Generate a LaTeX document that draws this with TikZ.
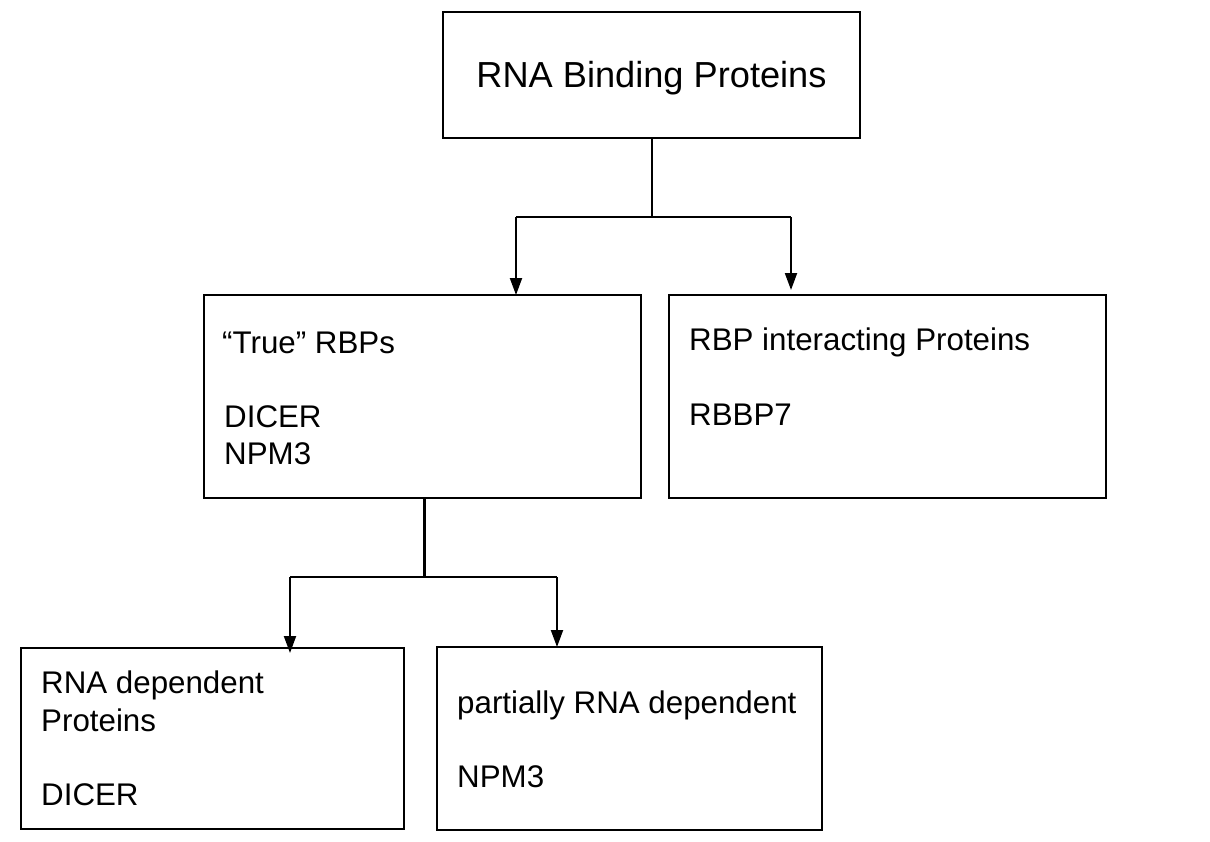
\documentclass[tikz,border=0pt]{standalone}
\usepackage{fontspec}
\setmainfont{Liberation Sans}
\usetikzlibrary{arrows.meta}
\begin{document}
\begin{tikzpicture}[x=1pt,y=-1pt,
  box/.style={draw=black,line width=1.6pt,rectangle,inner sep=0pt},
  txt/.style={anchor=base west,inner sep=0pt,font=\fontsize{31.3}{37.5}\selectfont},
  ttl/.style={anchor=base,inner sep=0pt,font=\fontsize{36.2}{43}\selectfont},
  conn/.style={line width=2pt},
  arr/.style={line width=2pt,-{Triangle[width=12pt,length=17pt]}}]
\useasboundingbox (0,0) rectangle (1210,841);
\fill[white] (0,0) rectangle (1210,841);
% boxes
\node[box,minimum width=417pt,minimum height=126pt] (top) at (651.5,75) {};
\node[box,minimum width=437pt,minimum height=203pt] (ml) at (422.5,396.5) {};
\node[box,minimum width=437pt,minimum height=203pt] (mr) at (887.5,396.5) {};
\node[box,minimum width=383pt,minimum height=181pt] (bl) at (212.5,738.5) {};
\node[box,minimum width=385pt,minimum height=183pt] (br) at (629.5,738.5) {};
% texts
\node[ttl] (t0) at (651.5,87) {RNA Binding Proteins};
\node[txt] (t1) at (222,353) {“True” RBPs};
\node[txt] (t2) at (224,427) {DICER};
\node[txt] (t3) at (224,464) {NPM3};
\node[txt] (t4) at (689,350) {RBP interacting Proteins};
\node[txt] (t5) at (689,425) {RBBP7};
\node[txt] (t6) at (41,693) {RNA dependent};
\node[txt] (t7) at (41,731) {Proteins};
\node[txt] (t8) at (41,805) {DICER};
\node[txt] (t9) at (457,713) {partially RNA dependent};
\node[txt] (t10) at (457,787) {NPM3};
% connectors
\coordinate (j1) at (652,217);
\coordinate (a1) at (516,217);
\coordinate (a2) at (791,217);
\coordinate (e1) at (516,295);
\coordinate (e2) at (791,290);
\draw[conn] (top.south -| j1) -- (j1);
\draw[conn] (a1) -- (a2);
\draw[arr] (a1) -- (e1);
\draw[arr] (a2) -- (e2);
\coordinate (j2) at (424,577);
\coordinate (b1) at (290,577);
\coordinate (b2) at (557,577);
\coordinate (f1) at (290,653);
\coordinate (f2) at (557,647);
\draw[line width=3pt] (ml.south -| j2) -- (j2);
\draw[conn] (b1) -- (b2);
\draw[arr] (b1) -- (f1);
\draw[arr] (b2) -- (f2);
\end{tikzpicture}
\end{document}
